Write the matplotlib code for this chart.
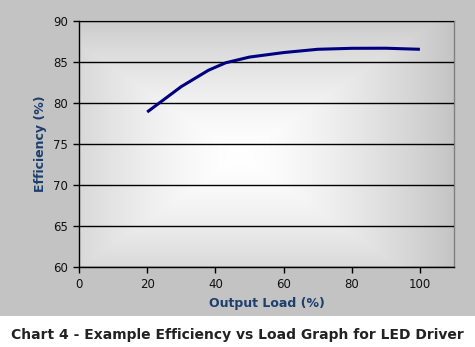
import matplotlib
matplotlib.use("Agg")
import matplotlib.pyplot as plt
import numpy as np
from matplotlib.patches import Rectangle

# --- Data ---
load_pct = [20, 30, 38, 43, 50, 60, 70, 80, 90, 100]
efficiency = [78.9, 82.0, 84.0, 84.9, 85.6, 86.15, 86.55, 86.67, 86.68, 86.55]
x_ticks = [0, 20, 40, 60, 80, 100]
y_ticks = [60, 65, 70, 75, 80, 85, 90]

BG_GRAY = '#c3c3c3'
LABEL_BLUE = '#1c3f6e'
LINE_NAVY = '#000080'

plt.rcParams['font.family'] = ['DejaVu Sans']

fig = plt.figure(figsize=(4.75, 3.47), dpi=100)
fig.patch.set_facecolor('white')
# gray chart-frame band (caption sits on white below it)
band = Rectangle((0, 31 / 347), 1, 1 - 31 / 347, transform=fig.transFigure,
                 facecolor=BG_GRAY, edgecolor='none', zorder=-10)
fig.add_artist(band)

ax = fig.add_axes([79 / 475, 80 / 347, 375 / 475, 246 / 347])
ax.set_zorder(1)
ax.set_xlim(0, 110)
ax.set_ylim(60, 90)

# rectangular "from centre" gradient fill of the plot area
nx, ny = 300, 200
gx, gy = np.meshgrid(np.linspace(0, 1, nx), np.linspace(0, 1, ny))
dx = np.abs(gx - 0.43) / 0.57
dy = np.abs(gy - 0.55) / 0.55
shade = 1.0 - np.maximum(0.23 * dx ** 1.5, 0.2 * dy ** 1.5)
rgb = np.dstack([shade, shade, shade])
ax.imshow(rgb, extent=[0, 110, 60, 90], aspect='auto', origin='upper',
          zorder=0, interpolation='bilinear')

ax.set_yticks(y_ticks)
ax.set_xticks(x_ticks)
ax.yaxis.grid(True, color='black', linewidth=1.0, zorder=1)
ax.set_axisbelow(False)

ax.plot(load_pct, efficiency, color=LINE_NAVY, linewidth=2.2, zorder=3,
        solid_capstyle='butt')

for side in ['top', 'right']:
    ax.spines[side].set_color('#808080')
    ax.spines[side].set_linewidth(1.0)
for side in ['left', 'bottom']:
    ax.spines[side].set_color('black')
    ax.spines[side].set_linewidth(1.0)

ax.tick_params(direction='out', length=4, width=1, colors='black',
               labelsize=8.5, pad=4)
for lbl in ax.get_xticklabels() + ax.get_yticklabels():
    lbl.set_color('#111111')

ax.set_xlabel('Output Load (%)', fontsize=9, fontweight='bold',
              color=LABEL_BLUE, labelpad=4)
ax.set_ylabel('Efficiency (%)', fontsize=9, fontweight='bold',
              color=LABEL_BLUE, labelpad=4)

fig.text(0.5, 12 / 347, 'Chart 4 - Example Efficiency vs Load Graph for LED Driver',
         ha='center', va='center', fontsize=10.0, fontweight='bold', color='#222222')

fig.savefig('out.png', dpi=100, facecolor=fig.get_facecolor())
